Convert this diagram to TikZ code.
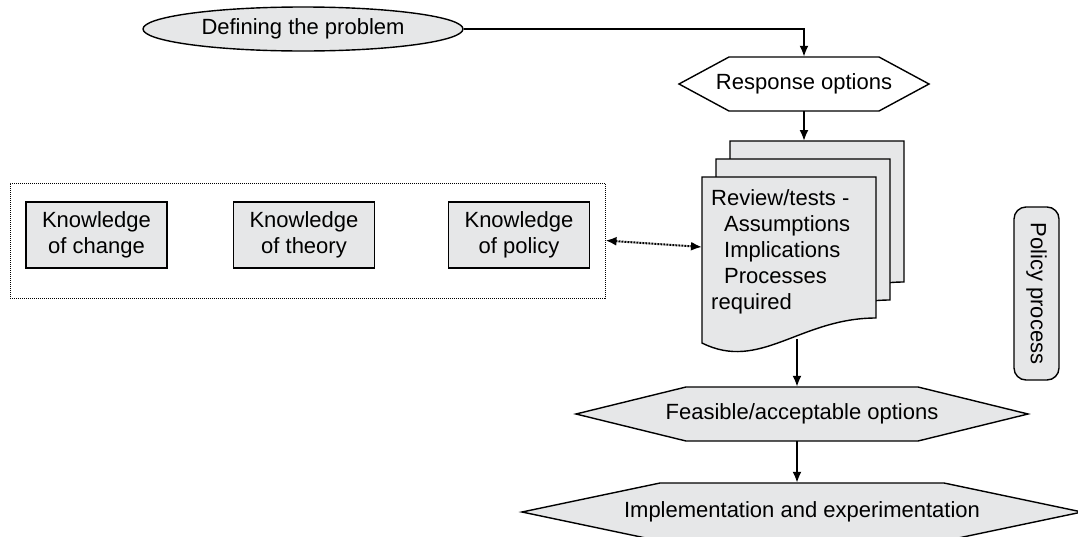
\documentclass[tikz,border=0pt]{standalone}
\usepackage{fontspec}
\setmainfont{Liberation Sans}
\usetikzlibrary{shapes.geometric, arrows.meta}
\definecolor{boxgray}{RGB}{230,231,232}

\begin{document}
\begin{tikzpicture}[x = 1pt, y = -1pt, > = {Latex[length = 11pt, width = 9pt]},
	font = \fontsize{22}{26}\selectfont,
	line/.style = {line width = 1.4pt},
	flow/.style = {line width = 2pt, ->},
	knowbox/.style = {draw, line, fill = boxgray, align = center, minimum width = 141pt, minimum height = 66pt}]

	% Definitions
	
	\clip (0, 0) rectangle (1078, 536);
	
	% Draw problem ellipse
	
	\node [ellipse, draw, line, fill = boxgray, minimum width = 320pt, minimum height = 44pt] (problem) at (303, 29) {Defining the problem};
	
	% Draw option hexagons
	
	\foreach \n/\x/\y/\f/\p/\h/\c/\t in {resp/804/84/75/125/27/white/Response options, feas/802/414/116/226/27/boxgray/{Feasible/acceptable options}, impl/802/512/142/280/29/boxgray/Implementation and experimentation}
	{
		\filldraw [line, fill = \c] (\x - \p, \y) -- (\x - \f, \y - \h) -- (\x + \f, \y - \h) -- (\x + \p, \y) -- (\x + \f, \y + \h) -- (\x - \f, \y + \h) -- cycle;
		\node [minimum width = 2 * \f, minimum height = 2 * \h] (\n) at (\x, \y) {\t};
	}
	
	% Draw stacked review sheets
	
	\foreach \dx/\dy in {28/36, 14/18, 0/0}
		\filldraw [line, fill = boxgray, shift = {(\dx, -\dy)}] (702, 177) -- (876, 177) -- (876, 318) .. controls (800, 318) and (760, 372) .. (702, 343) -- cycle;
	
	\coordinate (stacktop) at (807, 141);
	\coordinate (stackbot) at (797, 339);
	\coordinate (stackleft) at (702, 247);
	
	\node [anchor = north west, inner sep = 0pt, align = left] (review) at (711, 189) {Review/tests -\\\hspace*{13pt}Assumptions\\\hspace*{13pt}Implications\\\hspace*{13pt}Processes\\required};
	
	% Draw knowledge boxes
	
	\node [draw, densely dotted, line width = 1pt, minimum width = 595pt, minimum height = 115pt] (know) at (307.5, 240.5) {};
	
	\foreach \n/\x in {change/96.5, theory/304, policy/519}
		\node [knowbox] (\n) at (\x, 235) {Knowledge\\of \n};
	
	% Draw process label
	
	\node [draw, line, fill = boxgray, rounded corners = 12pt, rotate = -90, minimum width = 173pt, minimum height = 45pt] (process) at (1036.5, 293.5) {Policy process};
	
	% Draw connectors
	
	\draw [flow] (problem.east) -| (resp.north);
	\draw [flow] (resp.south) -- (resp.south |- stacktop);
	\draw [flow] (stackbot) -- (stackbot |- feas.north);
	\draw [flow] (feas.south -| stackbot) -- (impl.north -| stackbot);
	\draw [flow, densely dotted, <->] (know.east) -- (stackleft);
	
\end{tikzpicture}
\end{document}
